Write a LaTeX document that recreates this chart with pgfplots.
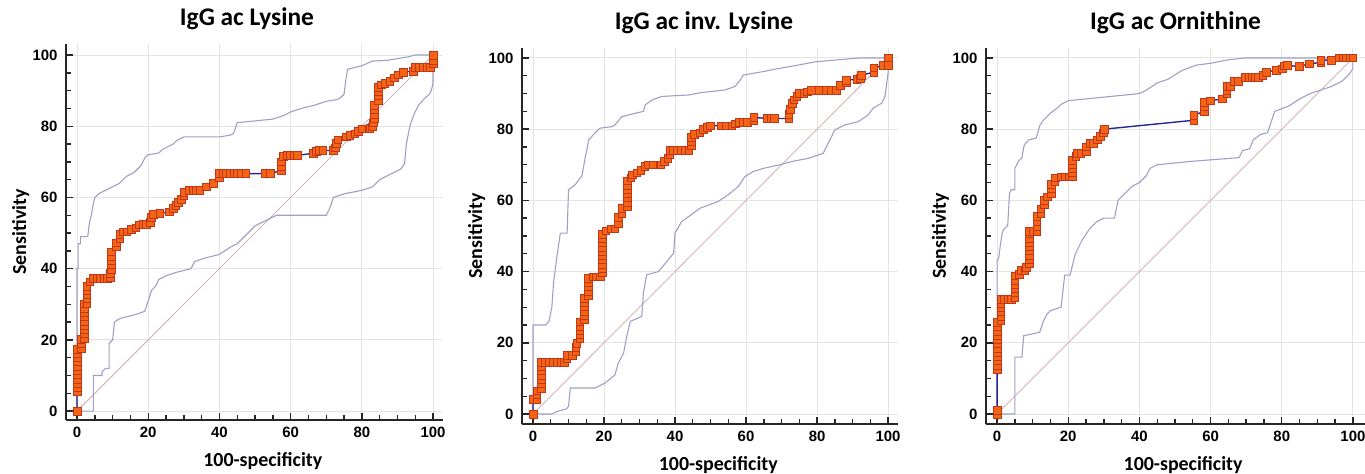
\documentclass[border=0pt]{standalone}
\usepackage{fontspec}
\setmainfont{Carlito}
\newfontfamily\tickfont{Liberation Sans}
\usepackage{pgfplots}
\pgfplotsset{compat=1.18}
\definecolor{rocline}{RGB}{40,40,150}
\definecolor{rocfill}{RGB}{245,100,20}
\definecolor{rocdraw}{RGB}{190,55,25}
\definecolor{bandc}{RGB}{160,160,198}
\definecolor{diagc}{RGB}{215,180,180}
\definecolor{gridc}{RGB}{228,228,228}
\pgfplotsset{
  rocaxis/.style={
    scale only axis,
    anchor=south west,
    axis x line=bottom, axis y line=left,
    axis line style={-, line width=2.3bp, black!85},
    tick align=inside,
    tick style={black!85, line width=1.4bp},
    major tick length=7bp, minor tick length=4.5bp,
    xtick={0,20,...,100}, ytick={0,20,...,100},
    minor x tick num=3, minor y tick num=3,
    grid=major,
    major grid style={gridc, line width=1bp},
    /pgf/number format/assume math mode=true,
    ticklabel style={font=\tickfont\fontsize{15}{15}\selectfont\bfseries},
    xticklabel style={yshift=-4bp},
    yticklabel style={xshift=-5bp},
    title style={font=\fontsize{25.5}{25.5}\selectfont\bfseries, anchor=base},
    label style={font=\fontsize{20}{20}\selectfont\bfseries},
    xlabel={100-specificity}, ylabel={Sensitivity},
    xlabel style={at={(axis description cs:0.522,-0.125)}, anchor=base},
    ylabel style={at={(axis description cs:-0.106,0.5)}, rotate=0, anchor=base},
  },
  band/.style={bandc, line width=1.1bp, no marks},
  diag/.style={diagc, line width=0.9bp, no marks},
  roc/.style={rocline, line width=1.4bp, mark=square*, mark size=3.8bp,
    mark options={fill=rocfill, draw=rocdraw, line width=0.6bp, solid}},
}
\begin{document}
\begin{tikzpicture}[x=1bp,y=1bp]
\useasboundingbox (0,0) rectangle (1365,474);
% ---------------- Panel 1 ----------------
\begin{axis}[rocaxis, at={(66bp,54bp)}, width=377bp, height=376bp,
  xmin=-3.1, xmax=102.8, ymin=-2.5, ymax=103.1,
  title={IgG ac Lysine}, title style={at={(axis description cs:0.48,1.032)}}]
\addplot[diag] coordinates {(0,0) (100,100)};
\addplot[band] coordinates {(0,0) (0,40) (0.3,40) (0.3,47) (1,47) (1,49) (3,49) (3.5,53) (4,55) (4.5,58) (5,60) (6,61) (7,61.5) (8,62) (9,62.5) (10,63) (11,63.5) (12,64) (13,65) (14,66) (15,66.5) (16,67) (17,68) (18,69) (19,71) (20,72) (23,72.5) (24,73.5) (25,74) (26,74.5) (27,75) (28,76) (30,77) (40,77) (43,77.5) (44,78) (45,81) (50,81.5) (55,82) (58,83) (60,84) (63,85) (67,86) (70,87) (73,87.5) (74,88) (75,89) (75.5,93) (76,96) (78,96.5) (80,97) (83,98.3) (87,98.5) (90,99) (93,99.5) (95,100) (100,100)};
\addplot[band] coordinates {(0,0) (4.6,0) (4.6,10) (7,10) (7,11) (8,12) (9,12) (9,19) (10,20) (10.5,25) (12,26) (16,27) (19,28) (20,31) (21,34) (22,35) (23,37) (25,38) (28,39) (32,40) (33,42) (36,43) (40,44) (43,46) (45,47) (46,48) (48,50) (50,52) (53,53.5) (56,55) (70,55) (71,57) (72,60) (75,61) (80,62) (83,63) (84,64) (85,65) (87,66) (89,67) (91,68) (92,69.5) (92.5,75) (93.5,80) (94.5,83) (96,86) (97.5,87.7) (99,89) (99.5,90) (100,92) (100,100)};
\addplot[roc] coordinates {(0,0) (0,5.4) (0,6.6) (0,7.8) (0,9.0) (0,10.2) (0,11.4) (0,12.6) (0,13.8) (0,15.0) (0,16.2) (0,17.4) (1.2,17.7) (1.2,18.9) (1.2,20.1) (2.0,20.5) (2.0,21.7) (2.0,22.9) (2.0,24.1) (2.0,25.3) (2.0,26.5) (2.0,27.7) (2.0,28.9) (2.0,30.1) (2.7,30.3) (2.7,31.5) (2.7,32.7) (2.7,33.9) (2.7,35.1) (3.6,36.3) (4.5,37.3) (5.5,37.3) (6.5,37.3) (7.5,37.3) (8.5,37.3) (9.3,37.5) (9.3,38.7) (9.7,39.9) (9.7,41.1) (9.7,42.3) (9.7,43.5) (9.7,44.7) (11.1,46.1) (11.1,47.3) (12,48.5) (12,49.7) (13,50.4) (14,50.4) (15.2,51) (16.5,51.5) (17.5,52.3) (18.5,52.5) (19.5,52.5) (20.5,53) (20.9,54.4) (21.5,55.2) (23.2,55.5) (26,56) (27,57) (27.7,57.8) (28.4,58.7) (29.3,59.4) (30,60.5) (30,61.5) (31.6,62) (32.5,62) (33.5,62) (34.5,62) (36.3,63) (38.2,64) (40,65.5) (40,66.7) (41,66.7) (42,66.7) (43,66.7) (44,66.7) (45,66.7) (46,66.7) (47.4,66.7) (52.7,66.7) (54.3,66.7) (57.4,67.6) (57.4,68.8) (57.4,70.0) (57.9,71.5) (58.9,71.8) (59.9,71.8) (60.9,71.8) (61.8,71.8) (66.3,72.4) (67.2,73.0) (68.0,73.2) (69.0,73.2) (72.0,73.2) (72.6,74.0) (72.9,75.2) (73.3,76.2) (75.7,77.0) (76.6,77.4) (78.0,77.9) (79.0,78.6) (80.0,79.3) (82.2,79.4) (83.0,79.8) (83.3,81.0) (83.5,82.2) (83.5,83.4) (83.5,84.6) (83.5,85.8) (84.6,87.3) (84.6,88.5) (84.6,89.7) (84.6,90.9) (85.5,91.6) (86.5,92) (87.8,92.6) (89.2,93.6) (90.2,94.5) (91.6,95.2) (94.4,95.5) (94.9,96.6) (96,96.6) (97.2,96.6) (98.3,96.6) (99.3,96.6) (100,97.6) (100,98.6) (100,100)};
\end{axis}
% ---------------- Panel 2 ----------------
\begin{axis}[rocaxis, at={(522bp,50bp)}, width=376bp, height=376bp,
  xmin=-3.1, xmax=102.8, ymin=-2.8, ymax=102.8,
  title={IgG ac inv. Lysine}, title style={at={(axis description cs:0.484,1.032)}}]
\addplot[diag] coordinates {(0,0) (100,100)};
\addplot[band] coordinates {(0,0) (0,25) (3.5,25) (4.5,26) (5.3,30) (5.8,37) (6.7,44) (7.7,50.8) (9.6,50.8) (10,63) (11.9,64.4) (13.8,67) (14.7,72) (15.7,77) (17.5,79) (18.9,80.3) (22.2,80.7) (23.1,81.2) (25,83.5) (26.9,84) (31.1,85) (31.6,86.8) (33.5,88.2) (36.3,89.2) (43.8,89.6) (47.5,90.3) (54,91) (56.9,92) (58.5,94) (59.2,95.2) (64.4,96.1) (69,97) (74.7,98) (79.4,98.9) (85,99.4) (92,100) (100,100)};
\addplot[band] coordinates {(0,0) (5.3,0) (6.7,0.7) (9.5,1.5) (10,2.2) (10.5,7.3) (17.5,7.3) (20.3,8.7) (23.1,11) (24,14.3) (25.5,17.1) (26.4,21.8) (27.4,26) (30.6,27.4) (31.1,34) (32,39.1) (35.3,40) (38.1,43.3) (39.6,45.2) (40,50.8) (41.9,54.1) (44.2,55.7) (47,57.8) (52.2,59.7) (55,61.6) (57.8,63.9) (59.7,66.7) (62,68.1) (64.9,69) (69.5,70) (72.8,70.9) (77.5,71.8) (81.7,73.2) (83.6,77) (85,79.8) (87.8,81.2) (91.6,82.1) (94.4,84) (95.8,85.9) (98.2,87.3) (99.1,89.1) (99.5,92) (100,95.7) (100,100)};
\addplot[roc] coordinates {(0,0) (0,4.2) (1.1,4.2) (1.1,5.4) (1.1,6.5) (2.3,7.3) (2.3,8.5) (2.3,9.7) (2.3,10.9) (2.3,12.1) (2.3,13.3) (2.3,14.5) (3.4,14.5) (4.5,14.5) (5.6,14.5) (6.7,14.5) (7.8,14.5) (8.8,14.5) (9.5,15.5) (9.5,16.5) (11.0,16.5) (12.0,17.5) (12.0,18.7) (12.3,19.9) (13.2,21.1) (13.2,22.3) (13.2,23.5) (13.2,24.7) (13.2,25.9) (14.5,26.5) (14.5,27.7) (14.5,28.9) (14.5,30.1) (14.5,31.3) (14.5,32.5) (15.5,33.3) (15.5,34.5) (15.5,35.7) (15.5,36.9) (15.5,38.1) (16.8,38.5) (17.9,38.5) (19.0,38.5) (19.5,39.7) (19.5,40.9) (19.5,42.1) (19.5,43.3) (19.5,44.5) (19.5,45.7) (19.5,46.9) (19.5,48.1) (19.5,49.3) (19.5,50.5) (20.5,51.5) (22.0,52) (23.0,52) (24.0,53.5) (24.0,55.3) (25.0,56.2) (25.0,57.7) (26.5,58.3) (26.5,59.5) (26.5,60.7) (26.5,61.9) (26.5,63.1) (26.5,64.3) (26.5,65.5) (27.5,66.3) (28.0,67.2) (29.2,67.8) (30.3,68.5) (31.5,69.5) (32.3,70.0) (33.7,70.0) (36.0,70.0) (37.0,71.0) (38.0,71.8) (38.5,73.0) (38.5,74.0) (39.5,74.0) (40.6,74.0) (41.7,74.0) (42.8,74.0) (43.9,74.0) (44.5,75.3) (44.5,76.5) (44.5,77.7) (45.5,78.5) (47.0,79.0) (48.0,80.0) (49.0,80.5) (50.0,81.0) (53.0,81.0) (54.5,81.0) (56.0,81.0) (57.0,81.5) (58.0,82.0) (59.2,82.0) (60.3,82.0) (62.2,82.5) (62.2,83.3) (66.0,83.0) (67.0,83.0) (68.0,83.0) (72.0,83.0) (72.0,84.2) (72.4,85.6) (73.0,87.2) (73.5,88.3) (74.3,89.3) (75.0,90.0) (76.3,90.0) (77.3,90.5) (78.3,91.0) (80.6,91.0) (82.5,91.0) (84.0,91.0) (85.5,91.0) (86.6,92.3) (88.3,93.0) (88.3,93.8) (91.2,94.0) (92.2,94.3) (92.5,95.2) (96.0,96.0) (96.0,97.2) (98.5,98.0) (100,98.0) (100,100)};
\end{axis}
% ---------------- Panel 3 ----------------
\begin{axis}[rocaxis, at={(986bp,50bp)}, width=379bp, height=376bp,
  xmin=-3.1, xmax=103.4, ymin=-2.8, ymax=102.8,
  title={IgG ac Ornithine}, title style={at={(axis description cs:0.50,1.032)}},
  xlabel style={at={(axis description cs:0.52,-0.125)}}]
\addplot[diag] coordinates {(0,0) (100,100)};
\addplot[band] coordinates {(0,0) (0,43) (0.5,44) (1,48) (1.5,51) (2,52) (3,53) (3.5,62) (4,63) (5,63) (5,69) (6,71) (7,72) (7.5,75) (8,76) (9,77) (11,77.5) (12,81) (13,82.5) (15,84.5) (17,86) (18,87) (20,88) (30,89) (40,90) (42,91) (45,93) (48,94) (52,96.5) (56,98) (60,98.5) (65,99.5) (70,100) (100,100)};
\addplot[band] coordinates {(0,0) (5,0) (5,16) (7,16) (7.5,22) (10,22.5) (12,23) (13,26) (14,28) (15,29) (18,30) (19,39) (20.5,39) (21,41) (22,45) (23,47) (24,49) (26,52) (28,54) (30,55) (33,55) (34,60) (36,62) (38,64) (40,65) (42,67) (43,69) (45,70) (55,71) (68,72) (69,74) (71,74.5) (72,77) (74,78.5) (76,79) (77,82) (78,85) (82,86.5) (85,88.5) (88,90) (91,91) (94,92) (97,93.5) (99,95.5) (100,97) (100,100)};
\addplot[roc] coordinates {(0,0) (0,1) (0,12.5) (0,13.7) (0,14.9) (0,16.1) (0,17.3) (0,18.5) (0,19.7) (0,20.9) (0,22.1) (0,23.3) (0,24.5) (0,25.7) (1,26.3) (1,27.5) (1,28.7) (1,29.9) (1,31.1) (1,32.3) (2,32.3) (3,32.3) (4,32.3) (5,32.8) (5,34.0) (5,35.2) (5,36.4) (5,37.6) (5,38.8) (6.2,39.3) (6.8,40.3) (7.8,40.3) (8.3,41.2) (9,42.2) (9,43.4) (9,44.6) (9,45.8) (9,47.0) (9,48.2) (9,49.4) (9,50.6) (9,51.4) (10.2,51.4) (11.2,51.4) (11.2,52.8) (11.2,54.2) (11.2,55.6) (12.3,56.2) (12.3,57.6) (13.2,58.8) (13.2,60.0) (14.2,61.0) (15.2,62.0) (15.2,63.4) (15.2,64.6) (16.2,65.3) (16.4,66.3) (18.0,66.6) (19.2,66.6) (20.3,66.6) (21.2,66.6) (21.2,67.8) (21.2,69.0) (21.2,70.2) (21.2,71.2) (22.1,72.4) (22.5,73.3) (23.5,73.3) (25.0,73.8) (25.0,75.0) (26.2,76.0) (27.1,76.0) (28.1,77.0) (29.0,78.0) (29.8,79.0) (30.1,80.0) (55.3,82.5) (55.3,83.9) (58.2,85.0) (58.2,86.3) (58.2,87.5) (60.0,88.0) (63.3,88.5) (64.6,90.0) (64.6,91.0) (64.6,92.0) (65.5,92.0) (66.5,93.5) (67.8,93.5) (69.8,94.5) (70.7,94.5) (71.6,94.5) (72.5,94.5) (73.4,94.5) (74.7,95.2) (75.6,96.0) (78.4,96.6) (80.2,97.0) (80.6,97.8) (81.6,97.9) (84.9,97.6) (87.7,98.4) (91.0,98.7) (91.0,99.4) (94.0,99.4) (96.2,100) (97.2,100) (98.2,100) (99.2,100) (100,100)};
\end{axis}
\end{tikzpicture}
\end{document}
